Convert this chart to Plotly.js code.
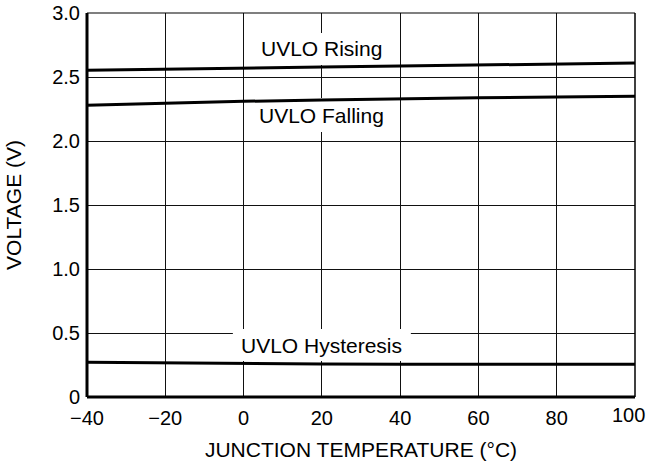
<!DOCTYPE html>
<html>
<head>
<meta charset="utf-8">
<script src="https://cdn.plot.ly/plotly-3.0.1.min.js"></script>
<style>html,body{margin:0;padding:0;background:#fff;}#chart{width:647px;height:470px;}</style>
</head>
<body>
<div id="chart"></div>
<script>
const temps = [-40, -20, 0, 20, 40, 60, 80, 100];
const uvloRising = [2.552, 2.562, 2.570, 2.578, 2.585, 2.593, 2.601, 2.610];
const uvloFalling = [2.279, 2.295, 2.310, 2.320, 2.330, 2.337, 2.344, 2.350];
const uvloHysteresis = [0.271, 0.265, 0.259, 0.257, 0.256, 0.256, 0.256, 0.256];
const xTickVals = [-40, -20, 0, 20, 40, 60, 80, 100];
const xTickText = ["\u221240", "\u221220", "0", "20", "40", "60", "80", "100"];
const yTickVals = [0, 0.5, 1.0, 1.5, 2.0, 2.5, 3.0];
const yTickText = ["0", "0.5", "1.0", "1.5", "2.0", "2.5", "3.0"];
const labelText = ["UVLO Rising", "UVLO Falling", "UVLO Hysteresis"];
const labelX = [20, 20, 20];
const labelY = [2.719, 2.203, 0.406];
const labelHalfWidth = [70, 70, 89];
const labelHalfHeight = [16, 17, 16];

const FONT = "Liberation Sans, Arial, Helvetica, sans-serif";
const lineStyle = {color: "#000", width: 3};
const traces = [
  {x: temps, y: uvloRising, mode: "lines", line: lineStyle, name: "UVLO Rising"},
  {x: temps, y: uvloFalling, mode: "lines", line: lineStyle, name: "UVLO Falling"},
  {x: temps, y: uvloHysteresis, mode: "lines", line: lineStyle, name: "UVLO Hysteresis"}
];

const borders = [
  {type: "line", xref: "paper", yref: "paper", x0: 0, x1: 0, y0: 0, y1: 1, line: {color: "#000", width: 3}, layer: "above"},
  {type: "line", xref: "paper", yref: "paper", x0: 0, x1: 1, y0: 0, y1: 0, line: {color: "#000", width: 3}, layer: "above"},
  {type: "line", xref: "paper", yref: "paper", x0: 0, x1: 1, y0: 1, y1: 1, line: {color: "#000", width: 1.2}, layer: "above"},
  {type: "line", xref: "paper", yref: "paper", x0: 1, x1: 1, y0: 0, y1: 1, line: {color: "#000", width: 1.5}, layer: "above"}
];
const labelBoxes = labelText.map((t, i) => ({
  type: "rect", xref: "x", yref: "y", layer: "between",
  xsizemode: "pixel", ysizemode: "pixel",
  xanchor: labelX[i], yanchor: labelY[i],
  x0: -labelHalfWidth[i], x1: labelHalfWidth[i],
  y0: -labelHalfHeight[i], y1: labelHalfHeight[i],
  fillcolor: "#fff", line: {width: 0}
}));

// The last x tick label sits flush against the right edge (as in the reference),
// so it is drawn as a right-anchored annotation at its tick value.
const lastIdx = xTickVals.length - 1;
const axisTickText = xTickText.map((t, i) => i === lastIdx ? "" : t);

const annotations = labelText.map((t, i) => ({
  text: t, x: labelX[i], y: labelY[i], xref: "x", yref: "y",
  showarrow: false,
  font: {family: FONT, size: 21, color: "#000"}
}));
annotations.push({
  text: xTickText[lastIdx], x: xTickVals[lastIdx], xref: "x", y: 0, yref: "paper",
  xanchor: "right", yanchor: "top", xshift: 11, yshift: -6, borderpad: 0,
  showarrow: false, font: {family: FONT, size: 20, color: "#000"}
});

const layout = {
  width: 647, height: 470,
  margin: {l: 87, r: 12, t: 13, b: 73, pad: 0},
  paper_bgcolor: "#fff", plot_bgcolor: "#fff",
  showlegend: false,
  font: {family: FONT, size: 20, color: "#000"},
  xaxis: {
    range: [-40, 100], tickvals: xTickVals, ticktext: axisTickText,
    showgrid: true, gridcolor: "#111", gridwidth: 1,
    zeroline: false, showline: false, ticks: "",
    ticklabelstandoff: 7,
    tickfont: {family: FONT, size: 20, color: "#000"},
    title: {text: "JUNCTION TEMPERATURE (°C)", font: {family: FONT, size: 21, color: "#000"}, standoff: 14}
  },
  yaxis: {
    range: [0, 3.0], tickvals: yTickVals, ticktext: yTickText,
    showgrid: true, gridcolor: "#111", gridwidth: 1,
    zeroline: false, showline: false, ticks: "",
    ticklabelstandoff: 6,
    tickfont: {family: FONT, size: 20, color: "#000"},
    title: {text: "VOLTAGE (V)", font: {family: FONT, size: 21, color: "#000"}, standoff: 24}
  },
  shapes: labelBoxes.concat(borders),
  annotations: annotations
};

Plotly.newPlot("chart", traces, layout, {staticPlot: true, displayModeBar: false});
</script>
</body>
</html>
